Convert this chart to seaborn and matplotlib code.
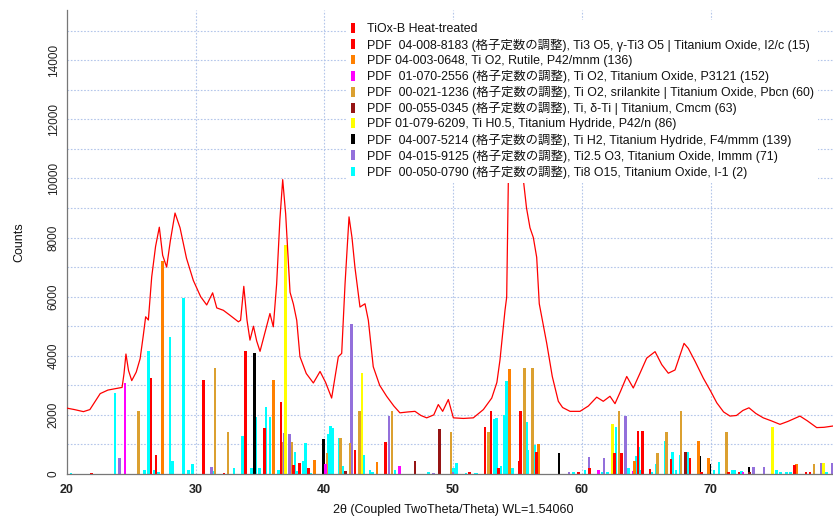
import matplotlib
matplotlib.use("Agg")
import matplotlib.pyplot as plt
from matplotlib.patches import Patch
from matplotlib.ticker import MultipleLocator, FuncFormatter
import seaborn as sns
import pandas as pd

# ---------------- measured scan (TiOx-B Heat-treated) ----------------
scan_2theta = [20.0, 20.6, 21.3, 21.8, 22.2, 22.6, 23.2, 23.8, 24.3, 24.45, 24.6, 24.8, 25.05, 25.4,
               25.7, 25.95, 26.13, 26.34, 26.6, 26.9, 27.19, 27.45, 27.76, 28.05, 28.41, 28.8, 29.3,
               29.83, 30.4, 30.87, 31.33, 31.65, 32.16, 32.68, 33.33, 33.5, 33.75, 34.0, 34.23, 34.5,
               34.75, 35.01, 35.4, 35.78, 36.04, 36.3, 36.55, 36.77, 37.0, 37.34, 37.6, 37.86, 38.11,
               38.6, 39.15, 39.67, 40.1, 40.57, 41.09, 41.35, 41.61, 41.92, 42.15, 42.38, 42.77, 43.16,
               43.42, 43.8, 44.3, 44.84, 45.4, 45.87, 46.5, 47.04, 47.5, 47.95, 48.5, 48.85, 49.19,
               49.63, 50.02, 50.8, 51.57, 52.35, 53.0, 53.4, 53.64, 54.03, 54.16, 54.29, 54.8, 55.3,
               55.45, 55.7, 55.97, 56.23, 56.49, 56.69, 57.27, 57.7, 58.17, 58.5, 59.08, 59.85, 60.5,
               61.15, 61.66, 62.18, 62.57, 63.0, 63.48, 63.99, 64.5, 65.03, 65.68, 66.2, 66.71, 67.23,
               67.93, 68.26, 68.8, 69.43, 70.0, 70.47, 71.0, 71.5, 72.0, 72.5, 72.97, 73.5, 74.08,
               74.7, 75.38, 76.0, 76.93, 77.5, 78.23, 78.8, 79.4, 80.0]
scan_counts = [2230, 2180, 2110, 2180, 2450, 2720, 2840, 2890, 2930, 3400, 4060, 3500, 3160, 3450,
               3900, 4700, 5320, 5210, 6670, 7700, 8350, 7400, 7000, 7900, 8830, 8330, 7300,
               6550, 6000, 5720, 6130, 5620, 5540, 5370, 5150, 5200, 6350, 5200, 4530, 5000,
               4500, 4150, 4800, 5430, 4980, 6430, 8600, 9960, 8800, 6150, 5750, 5200, 3970,
               3400, 3080, 3470, 3100, 2570, 3970, 4080, 6430, 8700, 8000, 6990, 5650, 5760,
               5200, 3630, 3000, 2630, 2300, 2070, 2100, 2120, 1980, 1900, 2000, 2350, 2120,
               2520, 1900, 1880, 1900, 2180, 2570, 3100, 3860, 5540, 5980, 9970, 13000, 11500,
               9970, 9000, 8330, 8000, 7330, 5760, 4420, 3300, 2460, 2250, 2120, 2120, 2300,
               2600, 2460, 2630, 2380, 2800, 3300, 2910, 3400, 3920, 4140, 3700, 3410, 3520,
               4420, 4250, 3800, 3240, 2800, 2410, 2100, 1960, 1980, 2150, 2240, 2050, 1900,
               1800, 1680, 1780, 1960, 1800, 1570, 1580, 1620, 1650]

# ---------------- reference stick patterns ----------------
ti3o5_pos = [21.94, 26.55, 26.94, 30.61, 32.2, 33.9, 35.34, 36.64, 37.6, 38.06, 38.76, 42.38, 44.76,
             51.26, 52.47, 52.94, 53.51, 55.14, 55.22, 56.46, 59.75, 60.6, 62.52, 63.09, 64.36,
             64.69, 65.29, 66.92, 68.39, 69.3, 71.4, 72.2, 76.49, 77.4, 77.7]
ti3o5_int = [30, 3234, 642, 3178, 40, 4170, 1565, 2421, 300, 360, 214, 810, 1070,
             60, 1600, 2128, 190, 440, 2140, 755, 80, 200, 700, 720, 1453,
             1453, 180, 495, 530, 80, 80, 60, 293, 60, 80]

rutile_pos = [27.45, 36.07, 39.23, 44.09, 54.36, 56.64, 64.07, 69.04, 69.84, 76.67]
rutile_int = [7213, 3164, 473, 416, 3547, 1000, 450, 1103, 530, 327]

p3121_pos = [24.53, 40.08, 45.83, 61.28, 64.0, 72.5]
p3121_int = [3065, 326, 270, 135, 100, 60]

srilankite_pos = [25.56, 31.52, 32.53, 36.69, 37.49, 40.21, 41.27, 41.99, 42.75, 45.26, 49.84,
                  52.73, 55.53, 56.15, 62.88, 65.88, 66.58, 67.69, 71.24, 78.02]
srilankite_int = [2141, 3595, 1431, 1070, 1070, 698, 1227, 1058, 2140, 2140, 1430,
                  1407, 3592, 3592, 2128, 700, 1430, 2140, 1419, 338]

ti_cmcm_pos = [41.66, 47.04, 48.96, 68.06, 71.3, 73.0]
ti_cmcm_int = [100, 440, 1520, 755, 80, 80]

tih05_pos = [37.0, 42.93, 62.36, 74.79, 78.74]
tih05_int = [7736, 3423, 1678, 1576, 383]

tih2_pos = [34.57, 39.95, 58.22, 69.17, 69.89, 72.97]
tih2_int = [4102, 1182, 720, 608, 338, 225]

ti25o3_pos = [24.09, 31.26, 36.87, 37.31, 42.13, 45.02, 48.5, 50.0, 59.0, 60.55, 61.72, 63.4,
              73.31, 74.14, 78.56, 79.47]
ti25o3_int = [530, 225, 1396, 1351, 5090, 1960, 40, 60, 60, 563, 530, 1960,
              250, 225, 383, 383]

ti8o15_pos = [20.34, 23.75, 26.06, 26.34, 26.78, 27.12, 28.02, 28.23, 29.06, 29.45, 29.76, 31.36,
              32.99, 33.66, 33.85, 34.36, 34.65, 34.98, 35.47, 35.78, 36.43, 37.73, 37.9, 38.4,
              38.55, 38.95, 40.34, 40.5, 40.62, 41.2, 41.4, 42.05, 43.03, 43.55, 43.75, 45.5,
              48.1, 50.05, 50.27, 51.0, 51.7, 51.85, 53.2, 53.38, 53.72, 53.97, 54.15, 54.6,
              55.71, 55.79, 56.33, 59.33, 60.24, 61.6, 62.0, 62.65, 63.6, 64.25, 64.41, 64.6,
              65.4, 65.8, 66.45, 67.05, 67.3, 67.67, 68.21, 70.25, 70.64, 71.7, 71.85, 72.4,
              75.1, 75.4, 75.9, 76.2, 79.0]
ti8o15_int = [50, 2727, 135, 4158, 135, 80, 4643, 450, 5962, 135, 338, 100,
              190, 1285, 630, 190, 1938, 214, 2252, 1937, 135, 754, 100, 450,
              1047, 50, 1351, 1633, 1565, 1205, 270, 640, 640, 120, 80, 120,
              60, 200, 383, 50, 50, 50, 1858, 1880, 270, 1993, 3141, 200,
              1768, 810, 980, 80, 135, 80, 80, 1576, 190, 608, 923, 150,
              80, 338, 1115, 732, 150, 642, 732, 150, 394, 150, 150, 100,
              150, 80, 80, 60, 80]

legend_labels = [
    "TiOx-B Heat-treated",
    "PDF  04-008-8183 (格子定数の調整), Ti3 O5, γ-Ti3 O5 | Titanium Oxide, I2/c (15)",
    "PDF 04-003-0648, Ti O2, Rutile, P42/mnm (136)",
    "PDF  01-070-2556 (格子定数の調整), Ti O2, Titanium Oxide, P3121 (152)",
    "PDF  00-021-1236 (格子定数の調整), Ti O2, srilankite | Titanium Oxide, Pbcn (60)",
    "PDF  00-055-0345 (格子定数の調整), Ti, δ-Ti | Titanium, Cmcm (63)",
    "PDF 01-079-6209, Ti H0.5, Titanium Hydride, P42/n (86)",
    "PDF  04-007-5214 (格子定数の調整), Ti H2, Titanium Hydride, F4/mmm (139)",
    "PDF  04-015-9125 (格子定数の調整), Ti2.5 O3, Titanium Oxide, Immm (71)",
    "PDF  00-050-0790 (格子定数の調整), Ti8 O15, Titanium Oxide, I-1 (2)",
]
legend_colors = ["#ff0000", "#ff0000", "#ff8000", "#ff00ff", "#dba030", "#961414",
                 "#ffff00", "#000000", "#9370db", "#00ffff"]

x_label = "2θ (Coupled TwoTheta/Theta) WL=1.54060"
y_label = "Counts"

# ---------------- styling ----------------
sns.set_theme(style="white")
plt.rcParams["font.family"] = ["Liberation Sans", "Noto Sans CJK JP", "DejaVu Sans"]
plt.rcParams["axes.unicode_minus"] = False

fig = plt.figure(figsize=(8.33, 5.17), dpi=100)
W, H = 833.0, 517.0
left_px, right_px, bottom_px, top_px = 66.7, 839.5, 474.0, 10.0
ax = fig.add_axes([left_px / W, 1 - bottom_px / H, (right_px - left_px) / W, (bottom_px - top_px) / H])
ax.set_facecolor("white")

# stick patterns (drawn last legend entry first)
patterns = [
    (ti8o15_pos, ti8o15_int, legend_colors[9]),
    (ti25o3_pos, ti25o3_int, legend_colors[8]),
    (tih2_pos, tih2_int, legend_colors[7]),
    (tih05_pos, tih05_int, legend_colors[6]),
    (ti_cmcm_pos, ti_cmcm_int, legend_colors[5]),
    (srilankite_pos, srilankite_int, legend_colors[4]),
    (p3121_pos, p3121_int, legend_colors[3]),
    (rutile_pos, rutile_int, legend_colors[2]),
    (ti3o5_pos, ti3o5_int, legend_colors[1]),
]
for z, (pos, inten, col) in enumerate(patterns):
    ax.bar(pos, inten, width=0.2, color=col, linewidth=0, zorder=2 + z * 0.01)

scan_df = pd.DataFrame({"two_theta": scan_2theta, "counts": scan_counts})
sns.lineplot(data=scan_df, x="two_theta", y="counts", color="#ff0000", linewidth=0.9,
             ax=ax, zorder=3, legend=False)

ax.set_xlim(20, 80)
ax.set_ylim(0, 15700)

# grid
grid_kw = dict(color="#b4c6ea", linestyle=(0, (1.5, 1.5)), linewidth=0.8, zorder=0)
for gx in [30, 40, 50, 60, 70]:
    ax.axvline(gx, **grid_kw)
for gy in range(1000, 16000, 1000):
    ax.axhline(gy, **grid_kw)

# ticks
ax.xaxis.set_major_locator(MultipleLocator(10))
ax.xaxis.set_minor_locator(MultipleLocator(1))
ax.yaxis.set_major_locator(MultipleLocator(1000))
ax.yaxis.set_minor_locator(MultipleLocator(200))
ax.yaxis.set_major_formatter(FuncFormatter(lambda v, p: f"{int(v)}" if int(v) % 2000 == 0 else ""))
ax.tick_params(axis="both", which="major", direction="out", length=5, width=0.8, color="#555555",
               labelsize=8.5, labelcolor="#222222", pad=2)
ax.tick_params(axis="both", which="minor", direction="out", length=2.5, width=0.6, color="#777777")
ax.tick_params(axis="y", which="major", length=5, pad=0)
for lab in ax.get_yticklabels():
    lab.set_rotation(90)
    lab.set_va("center")
ax.tick_params(axis="x", labelsize=9)
for lab in ax.get_xticklabels():
    lab.set_fontweight("bold")

for side in ["top", "right"]:
    ax.spines[side].set_visible(False)
for side in ["left", "bottom"]:
    ax.spines[side].set_color("#777777")
    ax.spines[side].set_linewidth(0.9)

ax.set_xlabel(x_label, fontsize=9, color="#111111", labelpad=6)
ax.set_ylabel(y_label, fontsize=9, color="#111111", labelpad=16)

# legend
handles = [Patch(facecolor=c, edgecolor="none") for c in legend_colors]
leg = fig.legend(handles, legend_labels, loc="upper left",
                 bbox_to_anchor=(347 / W, 1 - 19.5 / H), bbox_transform=fig.transFigure,
                 fontsize=8.9, frameon=True, fancybox=False, framealpha=1.0,
                 facecolor="white", edgecolor="none", borderpad=0.3,
                 handlelength=0.33, handleheight=0.85, handletextpad=1.0,
                 labelspacing=0.24, borderaxespad=0)
leg.set_zorder(10)
for t in leg.get_texts():
    t.set_color("#111111")

fig.savefig("out.png", dpi=100)
